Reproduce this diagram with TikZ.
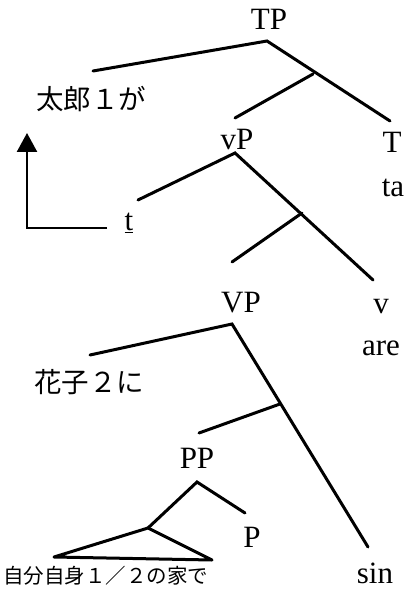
\documentclass[tikz,border=0pt]{standalone}
\usepackage{fontspec}
\setmainfont{Liberation Serif}
\newfontfamily\jp{Noto Sans CJK JP}
\usetikzlibrary{arrows.meta}
\begin{document}
\begin{tikzpicture}[x=1pt,y=-1pt,
  lab/.style={inner sep=0pt,anchor=base,font=\fontsize{31}{33}\selectfont},
  jlab/.style={inner sep=0pt,anchor=center,font=\jp\fontsize{27.5}{29}\selectfont},
  jsmall/.style={inner sep=0pt,anchor=center,font=\jp\fontsize{20.5}{22}\selectfont},
  branch/.style={line width=3pt,line cap=round}]
\useasboundingbox (0,0) rectangle (406,601);
% labels
\node[lab] (TP) at (269,30) {TP};
\node[jlab] (taro) at (91,99) {太郎１が};
\node[lab] (vP) at (237,150) {vP};
\node[lab] (T) at (392,153) {T};
\node[lab] (ta) at (393,197) {ta};
\node[lab] (t) at (129,230) {\underline{t}};
\node[lab] (VP) at (241,312) {VP};
\node[lab] (v) at (381,313) {v};
\node[lab] (are) at (381,355) {are};
\node[jlab] (hanako) at (89,382) {花子２に};
\node[lab] (PP) at (197,468) {PP};
\node[lab] (P) at (252,547) {P};
\node[jsmall] (jibun) at (95.5,576) {自分自身１／２の家};
\node[jsmall] (de) at (198,576) {で};
\node[lab] (sin) at (375,583) {sin};
% coordinates
\coordinate (a1) at (267,41);
\coordinate (l1) at (93,71);
\coordinate (r1) at (390,121);
\coordinate (b1) at (313,74);
\coordinate (m1) at (235,118);
\coordinate (a2) at (235,153);
\coordinate (l2) at (138,200);
\coordinate (r2) at (373,280);
\coordinate (b2) at (302,213);
\coordinate (m2) at (232,262);
\coordinate (a3) at (232,324);
\coordinate (l3) at (90,355);
\coordinate (r3) at (368,547);
\coordinate (b3) at (280,404);
\coordinate (m3) at (199,433);
\coordinate (a4) at (197,482);
\coordinate (r4) at (245,513);
\coordinate (l4) at (148,528);
\coordinate (tl) at (54,557);
\coordinate (tr) at (212,560);
\coordinate (s0) at (107,228);
\coordinate (s1) at (27,228);
\coordinate (s2) at (27,133);
% branches
\draw[branch] (l1) -- (a1) -- (r1);
\draw[branch] (b1) -- (m1);
\draw[branch] (l2) -- (a2) -- (r2);
\draw[branch] (b2) -- (m2);
\draw[branch] (l3) -- (a3) -- (r3);
\draw[branch] (b3) -- (m3);
\draw[branch] (r4) -- (a4) -- (l4);
\draw[branch,line join=round] (l4) -- (tl) -- (tr) -- cycle;
% movement arrow
\draw[line width=2.4pt,-{Triangle[length=19pt,width=20pt]}] (s0) -- (s1) -- (s2);
\end{tikzpicture}
\end{document}
